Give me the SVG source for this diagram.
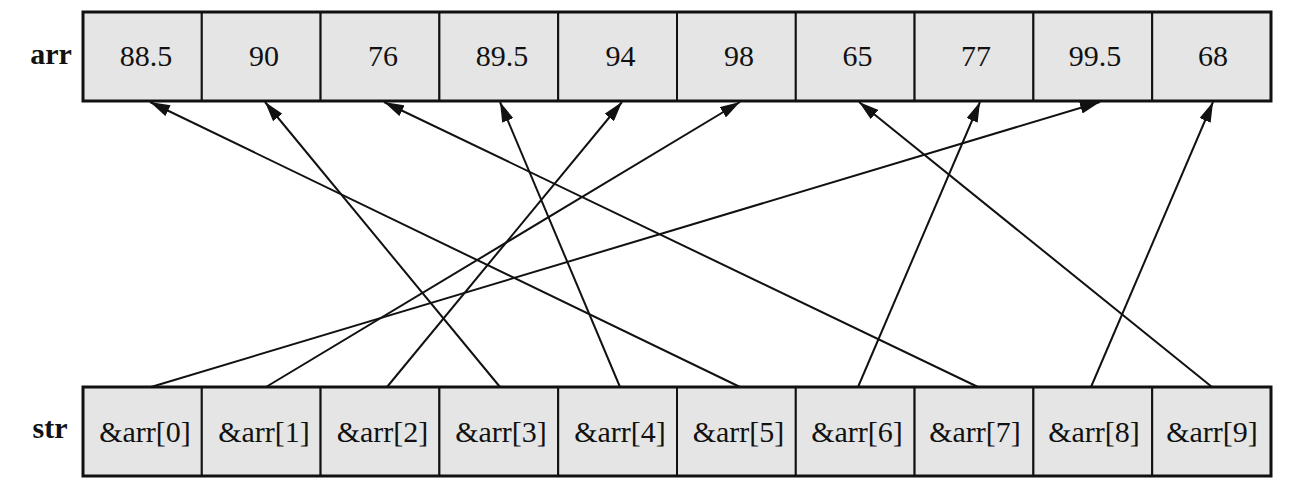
<svg xmlns="http://www.w3.org/2000/svg" width="1305" height="489" viewBox="0 0 1305 489">
<style>
.cell{fill:#e5e5e5;stroke:#111;stroke-width:2}
.outer{fill:none;stroke:#111;stroke-width:3}
.val{font-size:30px}
.ptr{font-size:30px}
.lbl{font-size:30px;font-weight:bold}
.conn{stroke:#111;stroke-width:2;fill:none;marker-end:url(#ah)}
</style>
<defs>
<marker id="ah" markerUnits="userSpaceOnUse" markerWidth="22" markerHeight="12" refX="20" refY="6" orient="auto">
<path d="M0,0 L20,6 L0,12 Z" fill="#111"/>
</marker>
</defs>
<rect width="1305" height="489" fill="#fff"/>
<g font-family="Liberation Serif, Times New Roman, serif" fill="#111" text-anchor="middle">
<text class="lbl" x="51" y="64">arr</text>
<text class="lbl" x="50" y="438">str</text>
</g>
<g id="arr" font-family="Liberation Serif, Times New Roman, serif" fill="#111" text-anchor="middle">
<g id="arr0"><rect class="cell" x="83" y="12" width="118.8" height="89"/><text class="val" x="146" y="66">88.5</text></g>
<g id="arr1"><rect class="cell" x="201.8" y="12" width="118.8" height="89"/><text class="val" x="264" y="66">90</text></g>
<g id="arr2"><rect class="cell" x="320.6" y="12" width="118.8" height="89"/><text class="val" x="383" y="66">76</text></g>
<g id="arr3"><rect class="cell" x="439.4" y="12" width="118.8" height="89"/><text class="val" x="502" y="66">89.5</text></g>
<g id="arr4"><rect class="cell" x="558.2" y="12" width="118.8" height="89"/><text class="val" x="620.5" y="66">94</text></g>
<g id="arr5"><rect class="cell" x="677" y="12" width="118.8" height="89"/><text class="val" x="739" y="66">98</text></g>
<g id="arr6"><rect class="cell" x="795.8" y="12" width="118.8" height="89"/><text class="val" x="857.5" y="66">65</text></g>
<g id="arr7"><rect class="cell" x="914.6" y="12" width="118.8" height="89"/><text class="val" x="976" y="66">77</text></g>
<g id="arr8"><rect class="cell" x="1033.4" y="12" width="118.8" height="89"/><text class="val" x="1095" y="66">99.5</text></g>
<g id="arr9"><rect class="cell" x="1152.2" y="12" width="118.8" height="89"/><text class="val" x="1213" y="66">68</text></g>
<rect class="outer" x="83" y="12" width="1188" height="89"/>
</g>
<g id="str" font-family="Liberation Serif, Times New Roman, serif" fill="#111" text-anchor="middle">
<g id="str0"><rect class="cell" x="83" y="387" width="118.8" height="89"/><text class="ptr" x="145" y="442">&amp;arr[0]</text></g>
<g id="str1"><rect class="cell" x="201.8" y="387" width="118.8" height="89"/><text class="ptr" x="264" y="442">&amp;arr[1]</text></g>
<g id="str2"><rect class="cell" x="320.6" y="387" width="118.8" height="89"/><text class="ptr" x="382.5" y="442">&amp;arr[2]</text></g>
<g id="str3"><rect class="cell" x="439.4" y="387" width="118.8" height="89"/><text class="ptr" x="501" y="442">&amp;arr[3]</text></g>
<g id="str4"><rect class="cell" x="558.2" y="387" width="118.8" height="89"/><text class="ptr" x="620" y="442">&amp;arr[4]</text></g>
<g id="str5"><rect class="cell" x="677" y="387" width="118.8" height="89"/><text class="ptr" x="738.5" y="442">&amp;arr[5]</text></g>
<g id="str6"><rect class="cell" x="795.8" y="387" width="118.8" height="89"/><text class="ptr" x="857" y="442">&amp;arr[6]</text></g>
<g id="str7"><rect class="cell" x="914.6" y="387" width="118.8" height="89"/><text class="ptr" x="975" y="442">&amp;arr[7]</text></g>
<g id="str8"><rect class="cell" x="1033.4" y="387" width="118.8" height="89"/><text class="ptr" x="1094" y="442">&amp;arr[8]</text></g>
<g id="str9"><rect class="cell" x="1152.2" y="387" width="118.8" height="89"/><text class="ptr" x="1212" y="442">&amp;arr[9]</text></g>
<rect class="outer" x="83" y="387" width="1188" height="89"/>
</g>
<g id="connectors">
<line class="conn" x1="151" y1="387" x2="1100" y2="102"/>
<line class="conn" x1="266" y1="387" x2="740" y2="102"/>
<line class="conn" x1="387" y1="387" x2="622" y2="102"/>
<line class="conn" x1="500" y1="387" x2="265" y2="102"/>
<line class="conn" x1="620" y1="387" x2="500" y2="102"/>
<line class="conn" x1="740" y1="387" x2="150" y2="102"/>
<line class="conn" x1="858" y1="387" x2="980" y2="102"/>
<line class="conn" x1="978" y1="387" x2="384" y2="102"/>
<line class="conn" x1="1091" y1="387" x2="1213" y2="102"/>
<line class="conn" x1="1212" y1="387" x2="859" y2="102"/>
</g>
</svg>
